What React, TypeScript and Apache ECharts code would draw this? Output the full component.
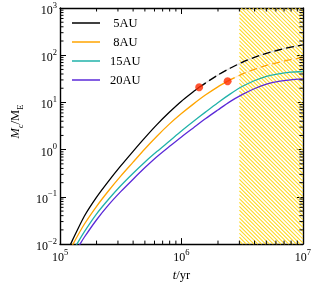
import React, { useEffect, useRef } from "react";
import * as echarts from "echarts";

const FONT = '"Liberation Serif", "Times New Roman", serif';

// axis ranges
const X_RANGE = [1e5, 1e7];
const Y_RANGE = [1e-2, 1e3];

// 5 AU (solid until the red dot, dashed after)
const au5T = [1.2e5, 1.259e5, 1.585e5, 1.995e5, 2.512e5, 3.162e5, 3.981e5, 5.012e5, 6.31e5, 7.943e5, 1e6, 1.259e6, 1.4e6];
const au5M = [0.0089, 0.0117, 0.0389, 0.0977, 0.216, 0.452, 0.912, 1.8, 3.43, 6.17, 10.6, 17.0, 20.9];
const au5DashT = [1.4e6, 1.585e6, 1.995e6, 2.512e6, 3.162e6, 3.981e6, 5.012e6, 6.31e6, 7.943e6, 1e7];
const au5DashM = [20.9, 26.0, 38.0, 53.1, 70.8, 90.2, 110, 129, 148, 166];

// 8 AU
const au8T = [1.2e5, 1.28e5, 1.585e5, 1.995e5, 2.512e5, 3.162e5, 3.981e5, 5.012e5, 6.31e5, 7.943e5, 1e6, 1.259e6, 1.585e6, 1.995e6, 2.4e6];
const au8M = [0.00708, 0.01, 0.0263, 0.0624, 0.135, 0.275, 0.537, 1.047, 1.95, 3.47, 5.82, 9.33, 14.5, 21.4, 28.2];
const au8DashT = [2.4e6, 2.512e6, 3.162e6, 3.981e6, 5.012e6, 6.31e6, 7.943e6, 1e7];
const au8DashM = [28.2, 30.1, 39.8, 50.1, 61.0, 70.8, 80.4, 89.1];

// 15 AU
const au15T = [1.3e5, 1.377e5, 1.585e5, 1.995e5, 2.512e5, 3.162e5, 3.981e5, 5.012e5, 6.31e5, 7.943e5, 1e6, 1.259e6, 1.585e6, 1.995e6, 2.512e6, 3.162e6, 3.981e6, 5.012e6, 6.31e6, 7.943e6, 1e7];
const au15M = [0.00759, 0.01, 0.0182, 0.0432, 0.0891, 0.172, 0.313, 0.55, 0.923, 1.51, 2.48, 3.98, 6.31, 9.89, 15.0, 21.7, 28.8, 35.5, 40.3, 43.7, 45.2];

// 20 AU
const au20T = [1.4e5, 1.462e5, 1.585e5, 1.995e5, 2.512e5, 3.162e5, 3.981e5, 5.012e5, 6.31e5, 7.943e5, 1e6, 1.259e6, 1.585e6, 1.995e6, 2.512e6, 3.162e6, 3.981e6, 5.012e6, 6.31e6, 7.943e6, 1e7];
const au20M = [0.00813, 0.01, 0.01396, 0.0324, 0.0676, 0.129, 0.234, 0.417, 0.716, 1.16, 1.86, 2.92, 4.57, 6.92, 10.4, 14.6, 19.5, 24.3, 27.9, 30.2, 31.6];

// red dots
const dotT = [1.4e6, 2.4e6];
const dotM = [20.9, 28.2];

// hatched region
const hatchRange = [3e6, 1e7];

const legendNames = [" 5AU", " 8AU", "15AU", "20AU"];
const colors = ["#000000", "#FFA500", "#20B2AA", "#5B2AD8"];

const zip = (a: number[], b: number[]) => a.map((v, i) => [v, b[i]]);

function minorValues(lo: number, hi: number) {
  const out: number[] = [];
  for (let d = lo; d < hi; d *= 10) {
    for (let k = 2; k <= 9; k++) out.push(d * k);
  }
  return out;
}

export default function App() {
  const ref = useRef<HTMLDivElement>(null);
  useEffect(() => {
    const chart = echarts.init(ref.current!, null, { renderer: "svg" });
    const supLabel = (v: number) => {
      const e = Math.round(Math.log10(v));
      return `{b|10}{s|${e < 0 ? "\u2212" + -e : e}}`;
    };
    const rich = {
      b: { fontFamily: FONT, fontSize: 12, color: "#000", lineHeight: 16, verticalAlign: "bottom" },
      s: { fontFamily: FONT, fontSize: 8.5, color: "#000", verticalAlign: "top" },
    };
    const axisLine = { show: true, lineStyle: { color: "#000", width: 1.4 } };
    const axisTick = { show: true, inside: true, length: 6, lineStyle: { color: "#000", width: 1 } };
    const xMinor = minorValues(X_RANGE[0], X_RANGE[1]);
    const yMinor = minorValues(Y_RANGE[0], Y_RANGE[1]);

    const lineBase = {
      type: "line",
      showSymbol: false,
      symbol: "none",
      smooth: 0.25,
      xAxisIndex: 0,
      yAxisIndex: 0,
      z: 3,
    };

    chart.setOption({
      animation: false,
      grid: { left: 49, right: 11, top: 7, bottom: 37, containLabel: false },
      legend: {
        data: legendNames,
        orient: "vertical",
        left: 72,
        top: 16,
        padding: 0,
        icon: "rect",
        itemWidth: 28,
        itemHeight: 1.5,
        itemGap: 5,
        textStyle: { fontFamily: FONT, fontSize: 12.5, color: "#000", lineHeight: 14, padding: [0, 0, 0, 5] },
      },
      xAxis: [
        {
          type: "log",
          logBase: 10,
          min: X_RANGE[0],
          max: X_RANGE[1],
          position: "bottom",
          axisLine,
          axisTick,
          splitLine: { show: false },
          axisLabel: { formatter: supLabel, rich, margin: 3 },
          name: "{i|t}{n|/yr}",
          nameLocation: "middle",
          nameGap: 21,
          nameTextStyle: {
            rich: {
              i: { fontFamily: FONT, fontSize: 12.5, fontStyle: "italic", color: "#000" },
              n: { fontFamily: FONT, fontSize: 12.5, color: "#000" },
            },
          },
        },
        {
          type: "log",
          logBase: 10,
          min: X_RANGE[0],
          max: X_RANGE[1],
          position: "top",
          axisLine,
          axisTick,
          splitLine: { show: false },
          axisLabel: { show: false },
        },
      ],
      yAxis: [
        {
          type: "log",
          logBase: 10,
          min: Y_RANGE[0],
          max: Y_RANGE[1],
          position: "left",
          axisLine,
          axisTick,
          splitLine: { show: false },
          axisLabel: { formatter: supLabel, rich, margin: 3 },
          name: "{i|M}{is|c}{n|/M}{sub|E}",
          nameLocation: "middle",
          nameGap: 36,
          nameRotate: 90,
          nameTextStyle: {
            padding: [0, 0, 0, 9],
            rich: {
              i: { fontFamily: FONT, fontSize: 12.5, fontStyle: "italic", color: "#000", lineHeight: 16, verticalAlign: "top" },
              is: { fontFamily: FONT, fontSize: 8.5, fontStyle: "italic", color: "#000", verticalAlign: "bottom" },
              n: { fontFamily: FONT, fontSize: 12.5, color: "#000", verticalAlign: "top" },
              sub: { fontFamily: FONT, fontSize: 8.5, color: "#000", verticalAlign: "bottom" },
            },
          },
        },
        {
          type: "log",
          logBase: 10,
          min: Y_RANGE[0],
          max: Y_RANGE[1],
          position: "right",
          axisLine,
          axisTick,
          splitLine: { show: false },
          axisLabel: { show: false },
        },
      ],
      series: [
        {
          type: "custom",
          name: "hatch",
          xAxisIndex: 0,
          yAxisIndex: 0,
          z: 1,
          silent: true,
          data: [[hatchRange[0], Y_RANGE[0]]],
          renderItem: (params: any, api: any) => {
            const p0 = api.coord([hatchRange[0], Y_RANGE[1]]);
            const p1 = api.coord([hatchRange[1], Y_RANGE[0]]);
            const x0 = p0[0], y0 = p0[1], x1 = p1[0], y1 = p1[1];
            const step = 3.85;
            const children: any[] = [];
            // lines y = x + c (going down-right)
            for (let c = y0 - x1; c <= y1 - x0; c += step) {
              const xa = Math.max(x0, y0 - c);
              const xb = Math.min(x1, y1 - c);
              if (xb <= xa) continue;
              children.push({
                type: "line",
                shape: { x1: xa, y1: xa + c, x2: xb, y2: xb + c },
                style: { stroke: "#FFD81F", lineWidth: 1.05 },
              });
            }
            return { type: "group", children };
          },
        },
        { ...lineBase, name: "5bg", data: zip(au5DashT, au5DashM), lineStyle: { color: "#dddddd", width: 1.3 }, z: 2 },
        { ...lineBase, name: "8bg", data: zip(au8DashT, au8DashM), lineStyle: { color: "#fdf0d8", width: 1.3 }, z: 2 },
        { ...lineBase, name: legendNames[0], data: zip(au5T, au5M), lineStyle: { color: colors[0], width: 1.3 }, itemStyle: { color: colors[0] } },
        { ...lineBase, name: "5dash", data: zip(au5DashT, au5DashM), lineStyle: { color: colors[0], width: 1.3, type: [8, 4] }, itemStyle: { color: colors[0] } },
        { ...lineBase, name: legendNames[1], data: zip(au8T, au8M), lineStyle: { color: colors[1], width: 1.3 }, itemStyle: { color: colors[1] } },
        { ...lineBase, name: "8dash", data: zip(au8DashT, au8DashM), lineStyle: { color: colors[1], width: 1.3, type: [8, 4] }, itemStyle: { color: colors[1] } },
        { ...lineBase, name: legendNames[2], data: zip(au15T, au15M), lineStyle: { color: colors[2], width: 1.3 }, itemStyle: { color: colors[2] } },
        { ...lineBase, name: legendNames[3], data: zip(au20T, au20M), lineStyle: { color: colors[3], width: 1.3 }, itemStyle: { color: colors[3] } },
        {
          type: "scatter",
          name: "dots",
          data: zip(dotT, dotM),
          symbolSize: 8,
          itemStyle: { color: "#FF2A00" },
          z: 4,
        },
        {
          type: "custom",
          name: "xminor",
          silent: true,
          z: 6,
          data: xMinor.map((v) => [v, Y_RANGE[0]]),
          renderItem: (params: any, api: any) => {
            const x = api.coord([api.value(0), Y_RANGE[0]])[0];
            const yb = api.coord([X_RANGE[0], Y_RANGE[0]])[1];
            const yt = api.coord([X_RANGE[0], Y_RANGE[1]])[1];
            return {
              type: "group",
              children: [
                { type: "line", shape: { x1: x, y1: yb, x2: x, y2: yb - 3.5 }, style: { stroke: "#000", lineWidth: 1 } },
                { type: "line", shape: { x1: x, y1: yt, x2: x, y2: yt + 3.5 }, style: { stroke: "#000", lineWidth: 1 } },
              ],
            };
          },
        },
        {
          type: "custom",
          name: "yminor",
          silent: true,
          z: 6,
          data: yMinor.map((v) => [X_RANGE[0], v]),
          renderItem: (params: any, api: any) => {
            const y = api.coord([X_RANGE[0], api.value(1)])[1];
            const xl = api.coord([X_RANGE[0], Y_RANGE[0]])[0];
            const xr = api.coord([X_RANGE[1], Y_RANGE[0]])[0];
            return {
              type: "group",
              children: [
                { type: "line", shape: { x1: xl, y1: y, x2: xl + 3.5, y2: y }, style: { stroke: "#000", lineWidth: 1 } },
                { type: "line", shape: { x1: xr, y1: y, x2: xr - 3.5, y2: y }, style: { stroke: "#000", lineWidth: 1 } },
              ],
            };
          },
        },
      ],
    });
    return () => chart.dispose();
  }, []);
  return <div ref={ref} style={{ position: "fixed", left: 0, top: 0, width: 314, height: 286 }} />;
}
